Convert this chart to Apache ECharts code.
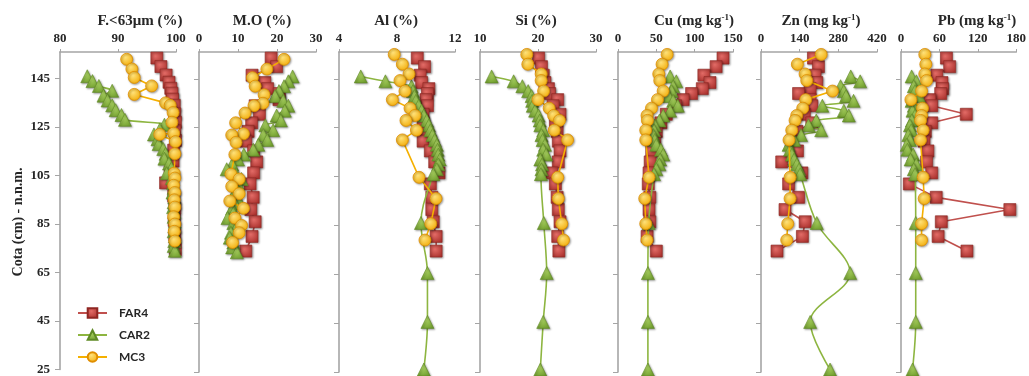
<!DOCTYPE html>
<html><head><meta charset="utf-8">
<script src="https://cdn.jsdelivr.net/npm/echarts@6/dist/echarts.min.js"></script>
<style>html,body{margin:0;padding:0;background:#fff}#c{width:1029px;height:376px}</style>
</head><body><div id="c"></div>
<script>
// ---- depths (Cota, cm) ----
const depthFAR4 = [153.5,150,146.5,143.5,141,139,136.5,134,130.5,127,123.5,119.5,115.5,111,106.5,102,96.5,91.5,86.5,80.5,74.5];
const depthCAR2sed = [146,144,142,140,138,136,134,132,130,128,126,124,122,120,118,116,114,112,110,108,106,104,102,100,98,96,94,92,90,88,86,84,82,80,78,76,74];
const depthCAR2chem = [146,144,142,140,138,136,134,132,130,128,126,124,122,120,118,116,114,112,110,108,106,86,65.5,45.5,26];
const depthMC3sed = [153,149,145.5,142,138.5,135,134,131,127,122.5,122,119,114,106,104,101,98,95,92,88,85,82,78];
const depthMC3chem = [155,151,147,144.3,140,136.5,133,130,128,124,120,104.7,96,85.7,79];

// ---- F.<63um (%) ----
const f63FAR4 = [96.7,97.4,98.3,98.8,99.1,99.3,99.4,99.7,99.8,99.9,99.8,99.9,99.6,99.5,99.0,98.2,99.6,99.8,99.7,99.8,99.9];
const f63CAR2 = [84.7,85.6,86.7,89.0,87.5,88.2,89.0,89.6,90.6,91.2,98.0,97.2,96.2,96.8,97.0,97.8,98.2,98.0,98.8,99.2,98.4,99.3,99.5,99.6,99.4,99.7,99.6,99.5,99.7,99.6,99.8,99.7,99.6,99.8,99.7,99.6,99.8];
const f63MC3 = [91.5,92.4,92.8,95.8,92.8,98.2,99.0,99.5,99.3,99.6,97.2,99.9,99.8,99.7,99.8,99.6,99.8,99.7,99.8,99.6,99.8,99.7,99.8];
// ---- M.O (%) ----
const moFAR4 = [18.5,19.9,13.6,16.9,17.6,20.6,20.5,14.4,15.5,13.5,12.6,12.0,14.0,14.8,14.0,13.1,13.9,13.3,14.4,13.6,12.0];
const moCAR2 = [24.0,22.9,21.8,20.5,19.5,21.6,22.9,22.0,19.9,21.0,17.0,19.0,16.5,17.5,15.2,13.9,11.5,10.0,8.5,7.1,9.5,10.9,10.0,9.7,9.0,10.0,9.2,8.5,8.8,7.3,8.8,9.5,8.2,7.9,8.8,8.5,9.7];
const moMC3 = [21.8,17.4,13.7,14.4,16.7,16.4,14.1,11.8,9.4,11.4,8.4,9.5,9.2,8.2,10.3,8.4,10.3,7.9,11.4,9.2,10.9,10.3,8.6];
// ---- Al (%) ----
const alFAR4 = [9.4,9.9,9.6,9.7,10.2,10.1,10.0,10.1,9.8,9.8,10.0,9.8,10.3,10.6,10.9,10.3,10.4,10.4,10.5,10.7,10.7];
const alCAR2 = [5.5,7.2,9.0,9.1,9.2,9.3,9.5,9.7,9.85,10.05,10.2,10.3,10.45,10.6,10.75,10.8,10.85,10.95,10.85,10.75,10.5,9.65,10.1,10.1,9.85];
const alMC3 = [7.81,8.37,8.83,8.21,8.55,7.68,8.90,9.24,8.62,9.34,8.37,9.52,10.69,10.33,9.93];
// ---- Si (%) ----
const siFAR4 = [20.1,20.6,20.9,21.2,21.8,22.0,23.4,22.6,23.8,23.0,23.3,23.5,23.8,23.5,22.4,23.0,23.3,23.5,23.8,23.4,23.6];
const siCAR2 = [12.0,15.8,17.3,18.3,18.9,19.0,19.1,19.5,20.1,20.3,20.4,20.9,20.6,20.8,21.2,20.9,21.4,20.4,20.7,20.6,20.5,21.0,21.5,20.9,20.4];
const siMC3 = [18.07,18.25,20.55,20.55,20.97,20.0,21.93,22.7,23.7,22.8,25.1,23.4,23.5,24.1,24.4];
// ---- Cu (mg kg-1) ----
const cuFAR4 = [137,128,112,120,110,96,85,75,63,56,50,48,44,42,40.5,39.5,41.5,40.5,41.5,38,50];
const cuCAR2 = [68,76,72,70,66,72,78,68,59,54,48,47,46,48,50,56,59,55,54,50,47,40,39,39,39];
const cuMC3 = [64.1,57.5,53.2,54.5,58.9,51.5,43.7,37.9,38.4,36.2,36.2,40.5,34.9,36.2,37.9];
// ---- Zn (mg kg-1) ----
const znFAR4 = [190,208,196,202,178,136,178,184,157,184,130,110,132,75,148,100,136,87,160,150,58];
const znCAR2 = [325,359,288,300,308,335,222,300,318,200,172,218,145,120,100,105,112,120,130,138,142,202,323,178,250];
const znMC3 = [217.8,131.7,159.6,165.8,258.8,162.1,151.2,129.4,123.4,111.4,101.6,105.3,105.3,96.8,93.2];
// ---- Pb (mg kg-1) ----
const pbFAR4 = [71,76,56,64,65,62,45,48,102,48,38,36,42,40,48,13,55,170,63,58,103];
const pbCAR2 = [16.6,24,20,22,28,16.6,20,18,22,17,14,16,11.4,14,9,10,19,15,24,20,22,23,23,23,18];
const pbMC3 = [37.2,38.8,37.2,39.9,32.1,15.5,33.6,32.1,30.5,34.6,30.5,34.6,36.2,32.1,32.1];

// ---- axis ticks ----
const yTicks = [25,45,65,85,105,125,145];
const panelTitles = ['F.<63μm (%)','M.O (%)','Al (%)','Si (%)','Cu (mg kg{s|-1})','Zn (mg kg{s|-1})','Pb (mg kg{s|-1})'];
const xMin = [80,0,4,10,0,0,0];
const xMax = [100,30,12,30,150,420,180];
const xStep = [10,10,4,10,50,140,60];
const seriesNames = ['FAR4','CAR2','MC3'];

const panelData = [
  [f63FAR4,f63CAR2,f63MC3,'sed'],
  [moFAR4,moCAR2,moMC3,'sed'],
  [alFAR4,alCAR2,alMC3,'chem'],
  [siFAR4,siCAR2,siMC3,'chem'],
  [cuFAR4,cuCAR2,cuMC3,'chem'],
  [znFAR4,znCAR2,znMC3,'chem'],
  [pbFAR4,pbCAR2,pbMC3,'chem']
];

// layout (pixels)
const gridLeft = [60,199,339,480,618,761,901];
const gridWidth = [116,117,116,116,115,116,116];
const titleX = [140,262,396,536,694,821,977];

const serif = 'Liberation Serif';
const axisGray = '#A5A5A5';

function zip(vals, depths){ return vals.map((v,i)=>[v, depths[i]]); }
function radial(c1,c2){ return {type:'radial',x:0.4,y:0.35,r:0.75,colorStops:[{offset:0,color:c1},{offset:1,color:c2}]}; }

const grids=[], xAxes=[], yAxes=[], series=[], graphics=[];
for(let k=0;k<7;k++){
  grids.push({left:gridLeft[k], width:gridWidth[k], top:52, height:320});
  xAxes.push({type:'value', gridIndex:k, position:'top', min:xMin[k], max:xMax[k], interval:xStep[k],
    axisLine:{show:true, onZero:false, lineStyle:{color:axisGray, width:1.6}},
    axisTick:{show:true, length:3, lineStyle:{color:axisGray}},
    splitLine:{show:false},
    axisLabel:{margin:7, fontFamily:serif, fontWeight:'bold', fontSize:13, color:'#262626'}});
  yAxes.push({type:'value', gridIndex:k, min:25, max:156, interval:20,
    axisLine:{show:true, onZero:false, lineStyle:{color:axisGray, width:1.6}},
    axisTick:{show:true, length:5, customValues:yTicks, lineStyle:{color:axisGray}},
    splitLine:{show:false},
    axisLabel:{show:k===0, customValues:yTicks, margin:10, fontFamily:serif, fontWeight:'bold', fontSize:13, color:'#262626'}});
  const pd = panelData[k];
  const carD = pd[3]==='sed'?depthCAR2sed:depthCAR2chem;
  const mcD = pd[3]==='sed'?depthMC3sed:depthMC3chem;
  series.push({name:'FAR4', type:'line', xAxisIndex:k, yAxisIndex:k, data:zip(pd[0],depthFAR4),
    symbol:'rect', symbolSize:12, clip:false, z:2,
    lineStyle:{color:'#C0504D', width:1.6},
    itemStyle:{color:radial('#E26B66','#A82F2B'), borderColor:'#8E2622', borderWidth:0.6, shadowBlur:2, shadowColor:'rgba(0,0,0,0.35)', shadowOffsetX:1, shadowOffsetY:1}});
  series.push({name:'CAR2', type:'line', xAxisIndex:k, yAxisIndex:k, data:zip(pd[1],carD),
    symbol:'triangle', symbolSize:13, smooth:0.35, clip:false, z:3,
    lineStyle:{color:'#8DB540', width:1.6},
    itemStyle:{color:radial('#A9D160','#6E9B2C'), borderColor:'#5F8A25', borderWidth:0.6, shadowBlur:2, shadowColor:'rgba(0,0,0,0.35)', shadowOffsetX:1, shadowOffsetY:1}});
  series.push({name:'MC3', type:'line', xAxisIndex:k, yAxisIndex:k, data:zip(pd[2],mcD),
    symbol:'circle', symbolSize:12, clip:false, z:4,
    lineStyle:{color:'#F5B000', width:1.6},
    itemStyle:{color:radial('#FFE27A','#F2A900'), borderColor:'#E08E00', borderWidth:0.8, shadowBlur:2, shadowColor:'rgba(0,0,0,0.35)', shadowOffsetX:1, shadowOffsetY:1}});
  graphics.push({type:'text', x:titleX[k], y:21, style:{text:panelTitles[k], align:'center', verticalAlign:'middle',
    fontFamily:serif, fontWeight:'bold', fontSize:15, fill:'#262626',
    rich:{s:{fontFamily:serif, fontWeight:'bold', fontSize:9, verticalAlign:'top', fill:'#262626'}}}});
}
graphics.push({type:'text', x:18, y:222, rotation:Math.PI/2, style:{text:'Cota (cm) - n.n.m.', align:'center', verticalAlign:'middle',
  fontFamily:serif, fontWeight:'bold', fontSize:14, fill:'#262626'}});

const chart = echarts.init(document.getElementById('c'), null, {renderer:'canvas'});
chart.setOption({
  animation:false,
  backgroundColor:'#ffffff',
  grid:grids, xAxis:xAxes, yAxis:yAxes, series:series, graphic:graphics,
  legend:{data:seriesNames, orient:'vertical', left:72, top:302, itemWidth:29, itemHeight:12, itemGap:10,
    textStyle:{fontFamily:'Lato', fontWeight:'bold', fontSize:12, color:'#262626', padding:[0,0,0,7]}}
});
</script></body></html>
